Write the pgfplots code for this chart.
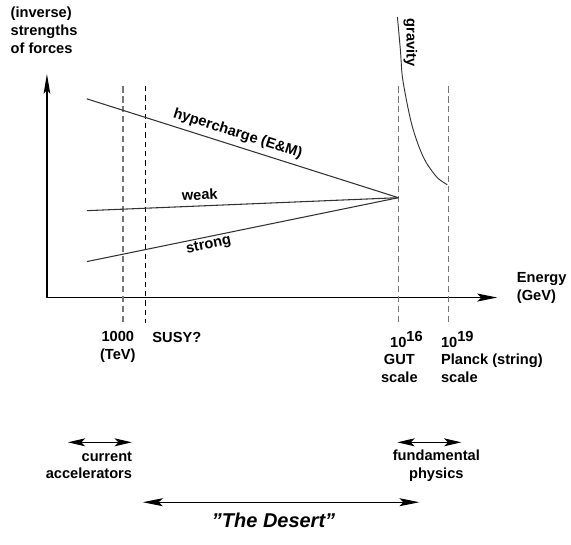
\documentclass[border=0pt]{standalone}
\usepackage{fontspec}
\setmainfont{Liberation Sans}
\usepackage{pgfplots}
\pgfplotsset{compat=1.18}
\usetikzlibrary{arrows.meta}
\definecolor{lineg}{HTML}{333333}
\definecolor{dashg}{HTML}{777777}
\newcommand{\lbl}{\fontsize{11}{13.5}\selectfont\bfseries}
\begin{document}
\begin{tikzpicture}[font=\lbl]
\begin{axis}[
  x=0.75pt, y=0.75pt, y dir=reverse,
  xmin=0, xmax=571, ymin=0, ymax=545,
  hide axis, clip=false,
  every node/.append style={inner sep=0pt},
]
% frame for the picture size
\addplot[draw=none] coordinates {(0,0) (571,545)};
% axes
\addplot[black, line width=1pt, -{Stealth[length=15pt,width=5pt,inset=3pt]}] coordinates {(47,298) (47,74)};
\addplot[black, line width=1pt, -{Stealth[length=15pt,width=6pt,inset=3pt]}] coordinates {(47,298) (498,298)};
% dashed scale lines
\addplot[dashg, line width=1.1pt, dash pattern=on 5pt off 2.5pt] coordinates {(123,86) (123,323)};
\addplot[black, line width=0.6pt, dash pattern=on 4pt off 3pt] coordinates {(146,86) (146,323)};
\addplot[dashg, line width=1.1pt, dash pattern=on 5pt off 2.5pt] coordinates {(399,86) (399,322)};
\addplot[dashg, line width=1.1pt, dash pattern=on 5pt off 2.5pt] coordinates {(449,86) (449,322)};
% couplings
\addplot[lineg, line width=0.8pt] coordinates {(87,99) (399,198)};
\addplot[lineg, line width=0.8pt] coordinates {(87,211) (399,198)};
\addplot[lineg, line width=0.8pt] coordinates {(87,262) (399,198)};
% gravity
\addplot[lineg, line width=0.7pt, smooth] coordinates {(398,17) (401,50) (403,77) (408,105) (413,127) (420,148) (427,163) (438,178) (448,185)};
% labels
\node[align=left, anchor=north west] at (axis cs:6,2) {(inverse)\\strengths\\of forces};
\node[align=left, anchor=west] at (axis cs:513,288) {Energy\\(GeV)};
\node[rotate=-90] at (axis cs:411,43) {gravity};
\node[rotate=-17.6] at (axis cs:238,134) {hypercharge (E\&M)};
\node[rotate=2.4] at (axis cs:200,195) {weak};
\node[rotate=11.6] at (axis cs:209,246) {strong};
\node[align=center] at (axis cs:118,347) {1000\\(TeV)};
\node[anchor=west] at (axis cs:148,338) {SUSY?};
\node[anchor=west] at (axis cs:386,340) {10\raisebox{0.75ex}{16}};
\node[anchor=west] at (axis cs:437,340) {10\raisebox{0.75ex}{19}};
\node[align=center] at (axis cs:400,369) {GUT\\scale};
\node[align=left, anchor=west] at (axis cs:437,369) {Planck (string)\\scale};
% bottom arrows
\addplot[black, line width=0.8pt, {Stealth[length=13pt,width=6pt,inset=3pt]}-{Stealth[length=13pt,width=6pt,inset=3pt]}] coordinates {(68,443) (132,443)};
\addplot[black, line width=0.8pt, {Stealth[length=13pt,width=6pt,inset=3pt]}-{Stealth[length=13pt,width=6pt,inset=3pt]}] coordinates {(398,443) (462,443)};
\addplot[black, line width=0.8pt, {Stealth[length=15pt,width=6pt,inset=3pt]}-{Stealth[length=15pt,width=6pt,inset=3pt]}] coordinates {(143,503) (420,503)};
\node[align=right, anchor=east] at (axis cs:137,466) {current\\accelerators};
\node[align=center] at (axis cs:437,466) {fundamental\\physics};
\node[font=\fontsize{15}{17}\selectfont\bfseries\itshape] at (axis cs:274,521) {"The Desert"};
\end{axis}
\end{tikzpicture}
\end{document}
